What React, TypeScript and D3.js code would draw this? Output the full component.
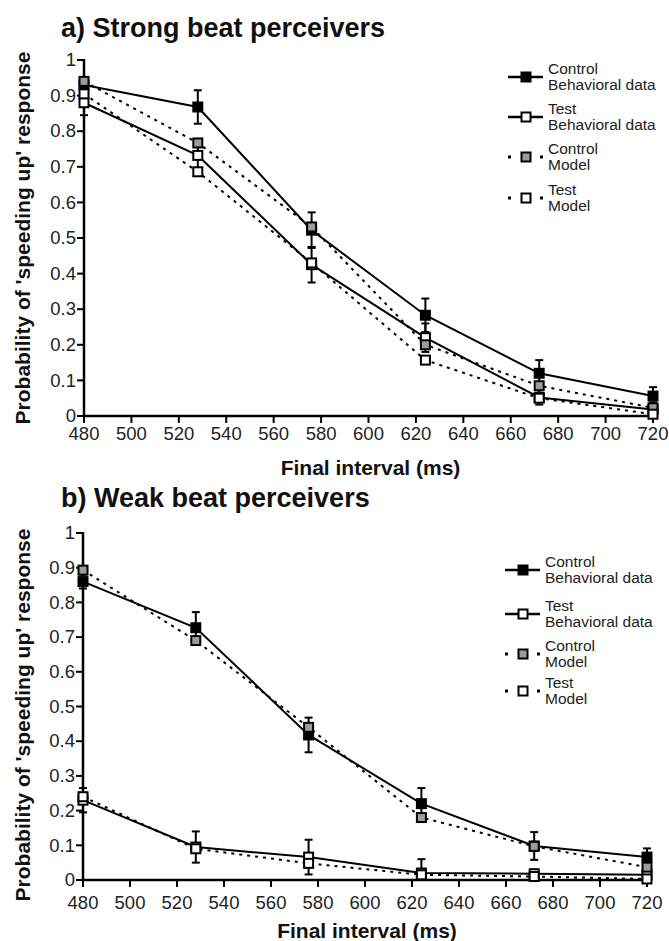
import React from "react";
import * as d3 from "d3";

const intervals = [480, 528, 576, 624, 672, 720];
const xTickValues = [480, 500, 520, 540, 560, 580, 600, 620, 640, 660, 680, 700, 720];
const yTickValues = [0, 0.1, 0.2, 0.3, 0.4, 0.5, 0.6, 0.7, 0.8, 0.9, 1];

// Panel a: strong beat perceivers
const strongControlData = [0.93, 0.868, 0.522, 0.283, 0.12, 0.056];
const strongControlErr = [0.02, 0.047, 0.05, 0.047, 0.037, 0.025];
const strongTestData = [0.88, 0.732, 0.425, 0.22, 0.052, 0.018];
const strongTestErr = [0.035, 0.04, 0.05, 0.04, 0.02, 0.02];
const strongControlModel = [0.94, 0.767, 0.531, 0.2, 0.085, 0.023];
const strongTestModel = [0.905, 0.686, 0.43, 0.157, 0.05, 0.005];

// Panel b: weak beat perceivers
const weakControlData = [0.86, 0.727, 0.418, 0.22, 0.098, 0.066];
const weakControlErr = [0.02, 0.045, 0.05, 0.045, 0.04, 0.025];
const weakTestData = [0.23, 0.095, 0.066, 0.02, 0.018, 0.015];
const weakTestErr = [0.035, 0.045, 0.05, 0.04, 0.012, 0.01];
const weakControlModel = [0.893, 0.69, 0.44, 0.18, 0.097, 0.037];
const weakTestModel = [0.24, 0.09, 0.048, 0.015, 0.01, 0.003];

const legendLabels = [
  ["Control", "Behavioral data"],
  ["Test", "Behavioral data"],
  ["Control", "Model"],
  ["Test", "Model"],
];

const FONT = "'Liberation Sans', Arial, Helvetica, sans-serif";
const GRAY = "#9c9c9c";
const DASH = "3,5";

type PanelCfg = {
  title: string;
  x0: number; x1: number; y0: number; y1: number;
  titleY: number; tickLabelY: number; axisTitleY: number; yLabelCenter: number;
  legendX: number; legendYs: number[];
  controlData: number[]; controlErr: number[];
  testData: number[]; testErr: number[];
  controlModel: number[]; testModel: number[];
};

const panels: PanelCfg[] = [
  {
    title: "a) Strong beat perceivers",
    x0: 84, x1: 653, y0: 416, y1: 60,
    titleY: 37, tickLabelY: 440, axisTitleY: 475, yLabelCenter: 238,
    legendX: 508, legendYs: [77, 117, 157, 198],
    controlData: strongControlData, controlErr: strongControlErr,
    testData: strongTestData, testErr: strongTestErr,
    controlModel: strongControlModel, testModel: strongTestModel,
  },
  {
    title: "b) Weak beat perceivers",
    x0: 83, x1: 647, y0: 880, y1: 533,
    titleY: 507, tickLabelY: 909, axisTitleY: 938, yLabelCenter: 715,
    legendX: 505, legendYs: [570, 614, 654, 691],
    controlData: weakControlData, controlErr: weakControlErr,
    testData: weakTestData, testErr: weakTestErr,
    controlModel: weakControlModel, testModel: weakTestModel,
  },
];

const MS = 9; // marker size

function Marker({ cx, cy, fill }: { cx: number; cy: number; fill: string }) {
  return (
    <rect x={cx - MS / 2} y={cy - MS / 2} width={MS} height={MS} fill={fill} stroke="#000" strokeWidth={2} />
  );
}

function Panel({ cfg }: { cfg: PanelCfg }) {
  const x = d3.scaleLinear().domain([480, 720]).range([cfg.x0, cfg.x1]);
  const y = d3.scaleLinear().domain([0, 1]).range([cfg.y0, cfg.y1]);
  const line = d3
    .line<number>()
    .x((_, i) => x(intervals[i]))
    .y((d) => y(d));

  const series = [
    { values: cfg.controlData, err: cfg.controlErr, fill: "#000", dashed: false },
    { values: cfg.testData, err: cfg.testErr, fill: "#fff", dashed: false },
    { values: cfg.controlModel, err: null, fill: GRAY, dashed: true },
    { values: cfg.testModel, err: null, fill: "#fff", dashed: true },
  ];

  const midX = (cfg.x0 + cfg.x1) / 2 + 2;

  return (
    <g>
      <text x={61} y={cfg.titleY} fontFamily={FONT} fontWeight="bold" fontSize={27} fill="#111">
        {cfg.title}
      </text>
      {/* axes */}
      <line x1={cfg.x0} x2={cfg.x0} y1={y(1) - 1} y2={cfg.y0 + 1} stroke="#000" strokeWidth={2.5} />
      <line x1={cfg.x0 - 1} x2={x(720) + 2} y1={cfg.y0} y2={cfg.y0} stroke="#000" strokeWidth={2.5} />
      {yTickValues.map((v) => (
        <g key={"y" + v}>
          <line x1={cfg.x0 - 7} x2={cfg.x0} y1={y(v)} y2={y(v)} stroke="#000" strokeWidth={2} />
          <text x={cfg.x0 - 8} y={y(v)} dy="0.34em" textAnchor="end" fontFamily={FONT} fontSize={18.5} fill="#222">
            {d3.format("~g")(v)}
          </text>
        </g>
      ))}
      {xTickValues.map((v) => (
        <g key={"x" + v}>
          <line x1={x(v)} x2={x(v)} y1={cfg.y0} y2={cfg.y0 + 7} stroke="#000" strokeWidth={2} />
          <text x={x(v)} y={cfg.tickLabelY} textAnchor="middle" fontFamily={FONT} fontSize={18.5} fill="#222">
            {v}
          </text>
        </g>
      ))}
      <text x={midX} y={cfg.axisTitleY} textAnchor="middle" fontFamily={FONT} fontWeight="bold" fontSize={21} fill="#111">
        Final interval (ms)
      </text>
      <text
        transform={`translate(22,${cfg.yLabelCenter}) rotate(-90)`}
        textAnchor="middle"
        dy="0.36em"
        fontFamily={FONT}
        fontWeight="bold"
        fontSize={21}
        fill="#111"
      >
        Probability of 'speeding up' response
      </text>

      {/* lines */}
      {series.map((s, i) => (
        <path
          key={"l" + i}
          d={line(s.values) || ""}
          fill="none"
          stroke="#000"
          strokeWidth={2}
          strokeDasharray={s.dashed ? DASH : undefined}
        />
      ))}
      {/* error bars */}
      {series.map((s, i) =>
        s.err
          ? s.values.map((v, j) => {
              const cx = x(intervals[j]);
              const top = y(v + s.err![j]);
              const bot = y(Math.max(0, v - s.err![j]));
              return (
                <g key={"e" + i + "-" + j}>
                  <line x1={cx} x2={cx} y1={top} y2={bot} stroke="#000" strokeWidth={2} />
                  <line x1={cx - 4} x2={cx + 4} y1={top} y2={top} stroke="#000" strokeWidth={2} />
                  <line x1={cx - 4} x2={cx + 4} y1={bot} y2={bot} stroke="#000" strokeWidth={2} />
                </g>
              );
            })
          : null
      )}
      {/* markers */}
      {series.map((s, i) =>
        s.values.map((v, j) => <Marker key={"m" + i + "-" + j} cx={x(intervals[j])} cy={y(v)} fill={s.fill} />)
      )}

      {/* legend */}
      {series.map((s, i) => {
        const ly = cfg.legendYs[i];
        const lx = cfg.legendX;
        return (
          <g key={"lg" + i}>
            <line
              x1={lx}
              x2={lx + 35}
              y1={ly}
              y2={ly}
              stroke="#000"
              strokeWidth={s.dashed ? 3 : 2.5}
              strokeDasharray={s.dashed ? "3,13" : undefined}
            />
            <Marker cx={lx + 18} cy={ly} fill={s.fill} />
            <text x={lx + 40} y={ly - 3} fontFamily={FONT} fontSize={15.5} fill="#222">
              {legendLabels[i][0]}
            </text>
            <text x={lx + 40} y={ly + 13} fontFamily={FONT} fontSize={15.5} fill="#222">
              {legendLabels[i][1]}
            </text>
          </g>
        );
      })}
    </g>
  );
}

export default function App() {
  return (
    <svg
      width={669}
      height={941}
      viewBox="0 0 669 941"
      style={{ position: "absolute", left: 0, top: 0, background: "#fff" }}
    >
      <rect width={669} height={941} fill="#fff" />
      {panels.map((p, i) => (
        <Panel key={i} cfg={p} />
      ))}
    </svg>
  );
}
